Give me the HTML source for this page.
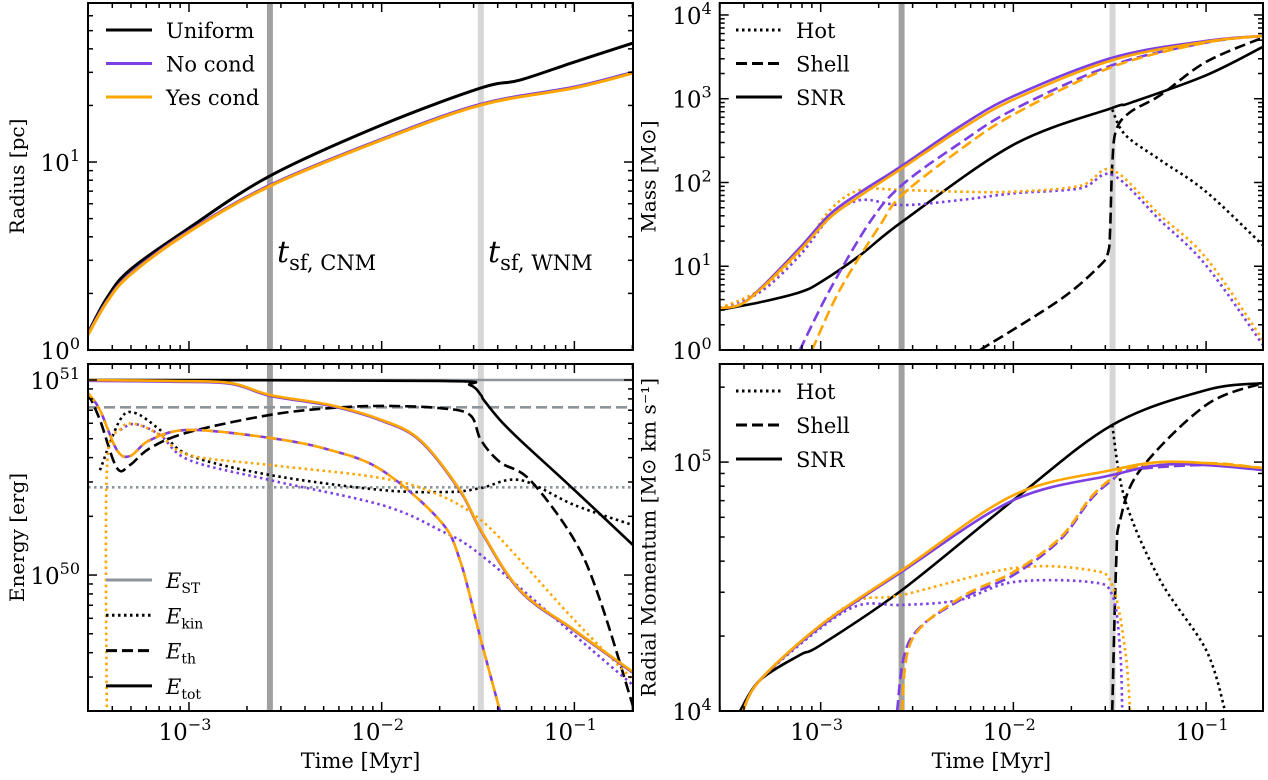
<!DOCTYPE html>
<html><head><meta charset="utf-8"><style>
body{margin:0;background:#fff;}
svg text{font-family:"DejaVu Serif","Liberation Serif",serif;fill:#000;}
</style></head><body>
<svg id="fig" width="1268" height="775" viewBox="0 0 1268 775" xmlns="http://www.w3.org/2000/svg"></svg>
<script>
// ---- data (log10 time [Myr], log10 value) ----
const tCNM = 0.00263, tWNM = 0.0327;
// Radius [pc]
const rUniT=[-3.524,-3.426,-3.306,-3,-2.58,-2,-1.485,-1.282,-1,-0.696];
const rUniV=[0.09,0.277,0.426,0.649,0.926,1.197,1.394,1.436,1.532,1.633];
const rCondT=[-3.524,-3.426,-3.306,-3,-2.58,-2,-1.485,-1,-0.696];
const rNoV=[0.085,0.26,0.404,0.633,0.877,1.122,1.308,1.399,1.478];
const rYesV=[0.08,0.255,0.399,0.628,0.872,1.117,1.303,1.394,1.473];
// Mass [Msun]
const mTotT=[-3.524,-3.419,-3.315,-3.108,-2.952,-2.796,-2.578,-2.277,-2,-1.487,-1,-0.705];
const mTotYes=[0.5,0.54,0.72,1.19,1.58,1.84,2.17,2.63,2.99,3.46,3.68,3.75];
const mTotNo=[0.5,0.54,0.73,1.22,1.62,1.88,2.2,2.67,3.03,3.49,3.69,3.75];
const mSnrT=[-3.524,-3.315,-3.108,-3,-2.796,-2.578,-2,-1.487,-1.394,-1,-0.705];
const mSnrV=[0.48,0.57,0.69,0.81,1.13,1.53,2.45,2.89,2.95,3.28,3.62];
const mShellUT=[-2.173,-1.758,-1.55,-1.508,-1.498,-1.487,-1.466,-1.394,-1.239,-1,-0.705];
const mShellUV=[0,0.6,1.01,1.17,1.43,2.21,2.63,2.84,3.04,3.44,3.73];
const mHotUT=[-1.487,-1.42,-1.239,-1,-0.705];
const mHotUV=[2.87,2.57,2.27,1.89,1.25];
const mShNoT=[-3.108,-2.952,-2.744,-2.578,-2.277,-2,-1.487,-1,-0.705];
const mShNoV=[0,0.72,1.53,1.97,2.47,2.87,3.4,3.67,3.75];
const mShYesT=[-3.045,-2.9,-2.692,-2.578,-2.277,-2,-1.487,-1,-0.705];
const mShYesV=[0,0.72,1.49,1.85,2.39,2.81,3.38,3.67,3.75];
const mHotT=[-3.524,-3.315,-3.108,-2.952,-2.796,-2.578,-2.277,-2,-1.654,-1.487,-1.239,-1,-0.705];
const mHotNo=[0.5,0.69,1.13,1.58,1.79,1.73,1.79,1.87,1.93,2.09,1.55,1.01,0.06];
const mHotYes=[0.5,0.72,1.17,1.67,1.91,1.91,1.89,1.89,1.96,2.15,1.61,1.10,0.12];
// Energy [erg]
const eST=51, eSTth=50.86, eSTkin=50.45;
const eTotUT=[-3.524,-1.70,-1.542,-1.485,-1.47,-1.386,-1.282,-1,-0.696];
const eTotUV=[51,50.995,50.974,50.923,50.897,50.795,50.692,50.436,50.154];
const eTotT=[-3.524,-3.099,-2.787,-2.58,-2.268,-2,-1.80,-1.594,-1.485,-1.282,-1,-0.696];
const eTotV=[51,50.995,50.985,50.923,50.872,50.795,50.692,50.436,50.231,49.923,49.718,49.503];
const eThUT=[-3.524,-3.462,-3.374,-3.306,-3.202,-3,-2.58,-2.268,-2,-1.70,-1.542,-1.485,-1.386,-1.23,-1,-0.867,-0.696];
const eThUV=[50.933,50.795,50.549,50.564,50.651,50.733,50.821,50.856,50.867,50.856,50.821,50.692,50.579,50.487,50.179,49.872,49.328];
const eKinUT=[-3.462,-3.358,-3.28,-3.15,-3,-2.58,-2,-1.65,-1.485,-1.282,-1,-0.696];
const eKinUV=[50.538,50.795,50.831,50.744,50.615,50.513,50.436,50.426,50.446,50.487,50.359,50.256];
const eThT=[-3.524,-3.462,-3.374,-3.306,-3.202,-3,-2.58,-2.268,-2,-1.70,-1.594,-1.485,-1.386];
const eThV=[50.933,50.846,50.641,50.610,50.692,50.744,50.703,50.641,50.538,50.282,50.077,49.667,49.303];
const eKinYesT=[-3.426,-3.426,-3.358,-3.28,-3.15,-3,-2.58,-2,-1.70,-1.485,-1.282,-1,-0.696];
const eKinYesV=[49.2,50.538,50.744,50.774,50.718,50.615,50.564,50.497,50.41,50.282,50.077,49.769,49.462];
const eKinNoT=[-3.358,-3.28,-3.15,-3,-2.58,-2,-1.70,-1.485,-1,-0.696];
const eKinNoV=[50.744,50.774,50.718,50.59,50.487,50.359,50.231,50.103,49.692,49.436];
// Radial momentum
const pSnrT=[-3.419,-3.315,-3.108,-3,-2.578,-2,-1.487,-1,-0.705];
const pSnrV=[4.0,4.124,4.225,4.265,4.486,4.847,5.149,5.289,5.317];
const pTotT=[-3.404,-3.315,-3,-2.578,-2,-1.487,-1.239,-1,-0.705];
const pTotYes=[4,4.124,4.345,4.566,4.867,4.968,5.0,4.996,4.976];
const pTotNo=[4,4.124,4.34,4.56,4.847,4.948,4.988,4.988,4.968];
const pHotUT=[-1.487,-1.42,-1.239,-1,-0.901];
const pHotUV=[5.149,4.847,4.526,4.245,4.0];
const pShUT=[-1.487,-1.466,-1.446,-1.342,-1,-0.705];
const pShUV=[4.0,4.606,4.767,4.968,5.229,5.317];
const pHotYesT=[-3.404,-3.315,-3,-2.796,-2.578,-2,-1.602,-1.487,-1.42,-1.394];
const pHotYesV=[4,4.124,4.345,4.446,4.466,4.574,4.566,4.506,4.245,4.0];
const pHotNoT=[-3.404,-3.315,-3,-2.796,-2.578,-2.277,-2,-1.602,-1.487,-1.446,-1.435];
const pHotNoV=[4,4.124,4.333,4.426,4.426,4.446,4.518,4.518,4.466,4.245,4.0];
const pShNoT=[-2.604,-2.537,-2.277,-2,-1.758,-1.602,-1.487,-1.394,-1,-0.705];
const pShNoV=[4.0,4.285,4.446,4.546,4.687,4.847,4.928,4.968,4.988,4.968];
const pShYesT=[-2.578,-2.527,-2.277,-2,-1.758,-1.602,-1.487,-1.394,-1,-0.705];
const pShYesV=[4.0,4.285,4.454,4.558,4.695,4.855,4.936,4.976,4.996,4.976];

const NS="http://www.w3.org/2000/svg";
const svg=document.getElementById('fig');
function el(tag,attrs,parent){const e=document.createElementNS(NS,tag);for(const k in attrs)e.setAttribute(k,attrs[k]);(parent||svg).appendChild(e);return e;}
const PURPLE="#7b3fe4", ORANGE="#ffa500";
const dec=192.7;
const panels=[
 {name:'radius',x0:88,x1:633,y0:3,y1:350,ymin:0,ymax:1.846,yt:[0,1],yl:'Radius [pc]'},
 {name:'mass',x0:719.7,x1:1263,y0:3,y1:350,ymin:0,ymax:4.143,yt:[0,1,2,3,4],yl:'Mass [M⊙]'},
 {name:'energy',x0:88,x1:633,y0:364,y1:711,ymin:49.303,ymax:51.082,yt:[50,51],yl:'Energy [erg]'},
 {name:'momentum',x0:719.7,x1:1263,y0:364,y1:711,ymin:4,ymax:5.394,yt:[4,5],yl:'Radial Momentum [M⊙ km s⁻¹]'}
];
panels.forEach((p,i)=>{
 p.xs=lt=>p.x0+(lt+3.524)*dec;
 p.ys=lv=>p.y1-(lv-p.ymin)/(p.ymax-p.ymin)*(p.y1-p.y0);
 const cp=el('clipPath',{id:'c'+i});
 el('rect',{x:p.x0,y:p.y0,width:p.x1-p.x0,height:p.y1-p.y0},cp);
 p.g=el('g',{'clip-path':'url(#c'+i+')'});
 
 
});
function path(p,T,V,color,dash,w,name,off){
 const pts=T.map((t,i)=>[p.xs(t),p.ys(V[i])]);
 let d='M'+pts[0][0]+','+pts[0][1];
 for(let i=0;i<pts.length-1;i++){
  const p0=pts[Math.max(0,i-1)],p1=pts[i],p2=pts[i+1],p3=pts[Math.min(pts.length-1,i+2)];
  const k=1/6;
  d+=' C'+(p1[0]+(p2[0]-p0[0])*k)+','+(p1[1]+(p2[1]-p0[1])*k)+' '+(p2[0]-(p3[0]-p1[0])*k)+','+(p2[1]-(p3[1]-p1[1])*k)+' '+p2[0]+','+p2[1];
 }
 const e=el('path',{d:d,fill:'none',stroke:color,'stroke-width':w||2.6,'stroke-dasharray':dash||'none','stroke-dashoffset':off||0,'stroke-linecap':'butt'},p.g);
 
 
}
const DOT='2.5 3.5', DASH='11 5';
panels.forEach(p=>{
 const a=el('line',{x1:p.xs(Math.log10(tCNM)),x2:p.xs(Math.log10(tCNM)),y1:p.y0,y2:p.y1,stroke:'#a0a0a0','stroke-width':6},p.g);
 
 
 const b=el('line',{x1:p.xs(Math.log10(tWNM)),x2:p.xs(Math.log10(tWNM)),y1:p.y0,y2:p.y1,stroke:'#d6d6d6','stroke-width':6},p.g);
 
 
});
const [P0,P1,P2,P3]=panels;
path(P0,rUniT,rUniV,'#000',null,3,'radius-uniform');
path(P0,rCondT,rNoV,PURPLE,null,3,'radius-no-cond');
path(P0,rCondT,rYesV,ORANGE,null,3,'radius-yes-cond');
path(P1,mSnrT,mSnrV,'#000',null,2.6,'mass-snr-uniform');
path(P1,mShellUT,mShellUV,'#000',DASH,2.6,'mass-shell-uniform');
path(P1,mHotUT,mHotUV,'#000',DOT,2.6,'mass-hot-uniform');
path(P1,mHotT,mHotNo,PURPLE,DOT,2.6,'mass-hot-no-cond');
path(P1,mHotT,mHotYes,ORANGE,DOT,2.6,'mass-hot-yes-cond');
path(P1,mShNoT,mShNoV,PURPLE,DASH,2.6,'mass-shell-no-cond');
path(P1,mShYesT,mShYesV,ORANGE,DASH,2.6,'mass-shell-yes-cond');
path(P1,mTotT,mTotNo,PURPLE,null,2.6,'mass-snr-no-cond');
path(P1,mTotT,mTotYes,ORANGE,null,2.6,'mass-snr-yes-cond');
[[eST,null,'energy-st-total'],[eSTth,DASH,'energy-st-thermal'],[eSTkin,DOT,'energy-st-kinetic']].forEach(([v,d,n])=>{
 const l=el('line',{x1:P2.x0,x2:P2.x1,y1:P2.ys(v),y2:P2.ys(v),stroke:'#8c949c','stroke-width':2.6,'stroke-dasharray':d||'none'},P2.g);
 
 
});
path(P2,eTotUT,eTotUV,'#000',null,2.6,'energy-total-uniform');
path(P2,eThUT,eThUV,'#000',DASH,2.6,'energy-thermal-uniform');
path(P2,eKinUT,eKinUV,'#000',DOT,2.6,'energy-kinetic-uniform');
path(P2,eKinNoT,eKinNoV,PURPLE,DOT,2.6,'energy-kinetic-no-cond');
path(P2,eKinYesT,eKinYesV,ORANGE,DOT,2.6,'energy-kinetic-yes-cond');
path(P2,eThT,eThV,PURPLE,DASH,2.6,'energy-thermal-no-cond',8);
path(P2,eThT,eThV,ORANGE,DASH,2.6,'energy-thermal-yes-cond');
path(P2,eTotT,eTotV.map(v=>v-0.004),PURPLE,null,2.6,'energy-total-no-cond');
path(P2,eTotT,eTotV,ORANGE,null,2.6,'energy-total-yes-cond');
path(P3,pSnrT,pSnrV,'#000',null,2.6,'momentum-snr-uniform');
path(P3,pHotUT,pHotUV,'#000',DOT,2.6,'momentum-hot-uniform');
path(P3,pShUT,pShUV,'#000',DASH,2.6,'momentum-shell-uniform');
path(P3,pHotNoT,pHotNoV,PURPLE,DOT,2.6,'momentum-hot-no-cond');
path(P3,pHotYesT,pHotYesV,ORANGE,DOT,2.6,'momentum-hot-yes-cond');
path(P3,pShNoT,pShNoV,PURPLE,DASH,2.6,'momentum-shell-no-cond');
path(P3,pShYesT,pShYesV,ORANGE,DASH,2.6,'momentum-shell-yes-cond');
path(P3,pTotT,pTotNo,PURPLE,null,2.6,'momentum-snr-no-cond');
path(P3,pTotT,pTotYes,ORANGE,null,2.6,'momentum-snr-yes-cond');

const xMajor=[-3,-2,-1];
panels.forEach((p,i)=>{
 const ax=el('g',{});  
 for(let d=-4;d<=0;d++)for(let m=1;m<10;m++){
  const lt=d+Math.log10(m); const x=p.xs(lt);
  if(x<p.x0||x>p.x1)continue;
  const L=m===1?9:5;
  el('line',{x1:x,x2:x,y1:p.y1,y2:p.y1-L,stroke:'#000','stroke-width':1.5},ax);
  el('line',{x1:x,x2:x,y1:p.y0,y2:p.y0+L,stroke:'#000','stroke-width':1.5},ax);
 }
 for(let d=Math.floor(p.ymin);d<=Math.ceil(p.ymax);d++)for(let m=1;m<10;m++){
  const lv=d+Math.log10(m); if(lv<p.ymin-1e-6||lv>p.ymax)continue; const y=p.ys(lv);
  const L=m===1?9:5;
  el('line',{x1:p.x0,x2:p.x0+L,y1:y,y2:y,stroke:'#000','stroke-width':1.5},ax);
  el('line',{x1:p.x1,x2:p.x1-L,y1:y,y2:y,stroke:'#000','stroke-width':1.5},ax);
 }
 el('rect',{x:p.x0,y:p.y0,width:p.x1-p.x0,height:p.y1-p.y0,fill:'none',stroke:'#000','stroke-width':2},ax);
 p.yt.forEach(v=>{
  const t=el('text',{x:p.x0-8,y:p.ys(v)+9,'font-size':23,'text-anchor':'end'},ax);
  t.innerHTML='10<tspan font-size="16" dy="-10">'+v+'</tspan>';
  
  
 });
 if(i>=2){
  xMajor.forEach(v=>{
   const t=el('text',{x:p.xs(v)-4,y:740,'font-size':23,'text-anchor':'middle'},ax);
   t.innerHTML='10<tspan font-size="16" dy="-10">−'+(-v)+'</tspan>';
   
   
  });
  const xl=el('text',{x:(p.x0+p.x1)/2,y:768,'font-size':21,'text-anchor':'middle'},ax);
  xl.textContent='Time [Myr]';
  
  
 }
 const cx=p.x0-64, cy=(p.y0+p.y1)/2;
 const yl=el('text',{x:cx,y:cy,'font-size':20,'text-anchor':'middle',transform:'rotate(-90 '+cx+' '+cy+')'},ax);
 yl.textContent=p.yl;
 
 
});
[['t',277,'CNM'],['t',488,'WNM']].forEach(([s,x,n])=>{
 const t=el('text',{x:x,y:262,'font-size':30});
 t.innerHTML='<tspan font-style="italic">t</tspan><tspan font-size="21" dy="8">sf, '+n+'</tspan>';
 
 
});
function legend(x,y0,items,name){
 const g=el('g',{});  
 items.forEach((it,k)=>{
  const y=y0+k*it[3];
  const e=el('g',{},g);
  
  
  el('line',{x1:x,x2:x+46,y1:y,y2:y,stroke:it[0],'stroke-width':3,'stroke-dasharray':it[1]||'none'},e);
  const t=el('text',{x:x+60,y:y+8,'font-size':21},e);
  t.innerHTML=it[2];
 });
}
legend(106,30,[['#000',null,'Uniform',33.5],[PURPLE,null,'No cond',33.5],[ORANGE,null,'Yes cond',33.5]],'radius-legend');
legend(736,30,[['#000',DOT,'Hot',33.5],['#000',DASH,'Shell',33.5],['#000',null,'SNR',33.5]],'mass-legend');
legend(736,391,[['#000',DOT,'Hot',34],['#000',DASH,'Shell',34],['#000',null,'SNR',34]],'momentum-legend');
const sub=(s)=>'<tspan font-style="italic">E</tspan><tspan font-size="14" dy="5">'+s+'</tspan>';
legend(106,580,[['#8c949c',null,sub('ST'),35.3],['#000',DOT,sub('kin'),35.3],['#000',DASH,sub('th'),35.3],['#000',null,sub('tot'),35.3]],'energy-legend');
</script>
</body></html>
